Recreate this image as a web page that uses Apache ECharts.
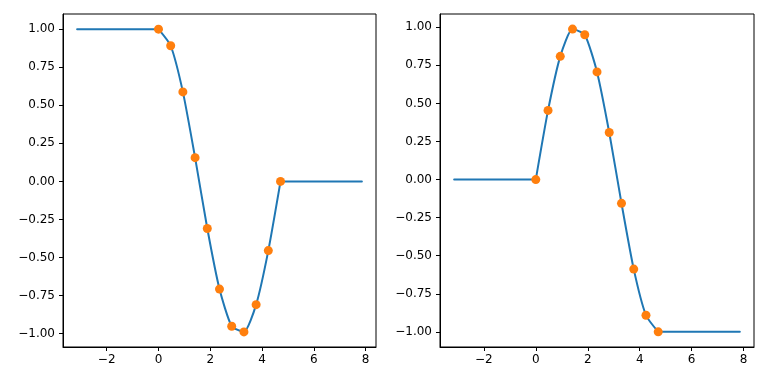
<!DOCTYPE html>
<html><head><meta charset="utf-8">
<script src="https://cdn.jsdelivr.net/npm/echarts@6/dist/echarts.min.js"></script>
<style>html,body{margin:0;padding:0;background:#fff}#c{width:768px;height:384px}</style>
</head><body><div id="c"></div>
<script>
// sample points (also the knots of the interpolated curve)
const sampleX = [0, 0.471, 0.942, 1.414, 1.885, 2.356, 2.827, 3.299, 3.770, 4.241, 4.712];
const cosY = [1.000, 0.891, 0.588, 0.156, -0.309, -0.707, -0.951, -0.988, -0.809, -0.454, 0.000];
const sinY = [0.000, 0.454, 0.809, 0.988, 0.951, 0.707, 0.309, -0.156, -0.588, -0.891, -1.000];
// clamped parts of the interpolated curve outside the sample range
const leftFlatX = [-3.142, 0];
const rightFlatX = [4.712, 7.854];
const cosLeftFlat = [1.000, 1.000];
const cosRightFlat = [0.000, 0.000];
const sinLeftFlat = [0.000, 0.000];
const sinRightFlat = [-1.000, -1.000];
const xTicks = [-2, 0, 2, 4, 6, 8];
const yTicks = [-1, -0.75, -0.5, -0.25, 0, 0.25, 0.5, 0.75, 1];

const zip = (a, b) => a.map((v, i) => [v, b[i]]);
const font = {fontFamily: 'DejaVu Sans', fontSize: 12, color: '#000'};
function xAxis(gi) {
  return {type: 'value', gridIndex: gi, min: -3.687, max: 8.399,
    axisLine: {show: true, onZero: false, lineStyle: {color: '#000', width: 1}},
    axisTick: {show: true, length: 4, lineStyle: {color: '#000'}, customValues: xTicks},
    axisLabel: Object.assign({margin: 7, customValues: xTicks, formatter: v => String(v).replace('-', '\u2212')}, font),
    splitLine: {show: false}};
}
function yAxis(gi, mn, mx) {
  return {type: 'value', gridIndex: gi, min: mn, max: mx,
    axisLine: {show: true, onZero: false, lineStyle: {color: '#000', width: 1}},
    axisTick: {show: true, length: 4, lineStyle: {color: '#000'}, customValues: yTicks},
    axisLabel: Object.assign({margin: 8, customValues: yTicks, formatter: v => v.toFixed(2).replace('-', '\u2212')}, font),
    splitLine: {show: false}};
}
function line(gi, xs, ys, smooth) {
  return {type: 'line', xAxisIndex: gi, yAxisIndex: gi, z: 2, data: zip(xs, ys), showSymbol: false,
    smooth: smooth, lineStyle: {color: '#1f77b4', width: 2, cap: 'round', join: 'round'}};
}
function dots(gi, ys) {
  return {type: 'scatter', xAxisIndex: gi, yAxisIndex: gi, z: 5, data: zip(sampleX, ys), symbolSize: 9,
    itemStyle: {color: '#ff7f0e', opacity: 1}};
}
const chart = echarts.init(document.getElementById('c'), null, {renderer: 'canvas'});
chart.setOption({
  animation: false,
  grid: [
    {left: 63, top: 14, width: 313, height: 333, show: true, borderColor: '#000', borderWidth: 1},
    {left: 440, top: 14, width: 314, height: 333, show: true, borderColor: '#000', borderWidth: 1}
  ],
  xAxis: [xAxis(0), xAxis(1)],
  yAxis: [yAxis(0, -1.0871, 1.0994), yAxis(1, -1.0994, 1.0871)],
  series: [
    line(0, leftFlatX, cosLeftFlat, false),
    line(0, sampleX, cosY, 0.2),
    line(0, rightFlatX, cosRightFlat, false),
    dots(0, cosY),
    line(1, leftFlatX, sinLeftFlat, false),
    line(1, sampleX, sinY, 0.2),
    line(1, rightFlatX, sinRightFlat, false),
    dots(1, sinY)
  ]
});
</script></body></html>
